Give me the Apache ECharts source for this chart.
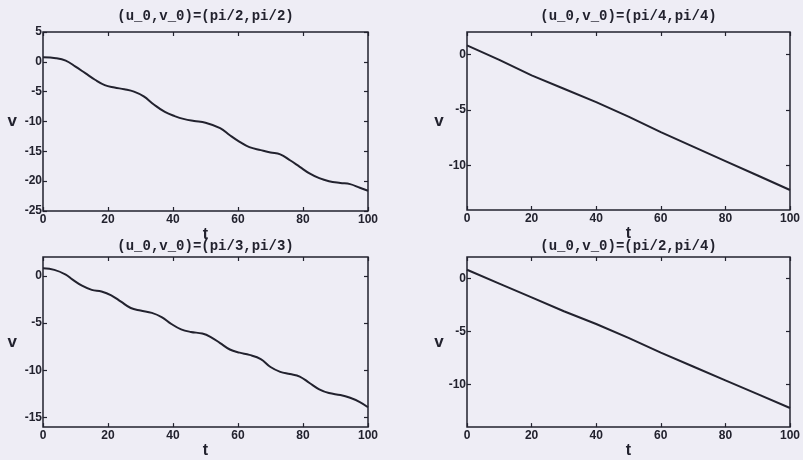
<!DOCTYPE html>
<html>
<head>
<meta charset="utf-8">
<script src="https://cdn.jsdelivr.net/npm/echarts@6/dist/echarts.min.js"></script>
<style>
  html, body { margin: 0; padding: 0; background: #eeedf5; }
  #chart { width: 803px; height: 460px; }
</style>
</head>
<body>
<div id="chart"></div>
<script>
// Time axis ticks shared by all panels
const tTicks = [0, 20, 40, 60, 80, 100];

// Panel titles (initial conditions)
const titles = [
  '(u_0,v_0)=(pi/2,pi/2)',
  '(u_0,v_0)=(pi/4,pi/4)',
  '(u_0,v_0)=(pi/3,pi/3)',
  '(u_0,v_0)=(pi/2,pi/4)'
];

// y tick values per panel
const vTicksA = [5, 0, -5, -10, -15, -20, -25];
const vTicksB = [0, -5, -10];
const vTicksC = [0, -5, -10, -15];
const vTicksD = [0, -5, -10];

// (pi/2, pi/2)
const tA = [0, 4, 7, 10, 13, 16, 19, 22, 25, 28, 31, 34, 37.5, 40.5, 43.5, 46.5, 50,
            54.5, 57.5, 60.5, 63.5, 67, 70, 73, 76, 79, 82, 85, 88, 91.5, 94.5, 97.5, 100];
const vA = [0.75, 0.6, 0.2, -0.8, -1.9, -3.0, -3.9, -4.3, -4.6, -5.0, -5.8, -7.1, -8.4, -9.1, -9.6, -9.9, -10.2,
            -11.1, -12.3, -13.4, -14.3, -14.8, -15.2, -15.5, -16.5, -17.6, -18.7, -19.5, -20.0, -20.3, -20.5, -21.1, -21.6];

// (pi/4, pi/4)
const tB = [0, 10, 20, 30, 40, 50, 60, 70, 80, 90, 100];
const vB = [0.8, -0.5, -1.9, -3.1, -4.3, -5.6, -7.0, -8.3, -9.6, -10.9, -12.2];

// (pi/3, pi/3)
const tC = [0, 3.5, 7, 9, 12, 15, 18, 21, 24, 27, 30, 33.5, 36.5, 39.5, 42.5, 45.5, 49,
            51.5, 54.5, 57.5, 60.5, 63.5, 67, 70, 73, 76, 79, 82, 85, 88, 91.5, 94.5, 97.5, 100];
const vC = [0.8, 0.64, 0.14, -0.37, -1.04, -1.48, -1.65, -2.05, -2.73, -3.4, -3.67, -3.91, -4.35, -5.09, -5.66, -5.93, -6.1,
            -6.44, -7.11, -7.79, -8.12, -8.36, -8.8, -9.64, -10.15, -10.38, -10.65, -11.33, -12.0, -12.4, -12.6, -12.9, -13.35, -13.9];

// (pi/2, pi/4)
const tD = [0, 10, 20, 30, 40, 50, 60, 70, 80, 90, 100];
const vD = [0.8, -0.5, -1.8, -3.1, -4.3, -5.6, -7.0, -8.3, -9.6, -10.9, -12.2];

const ink = '#22222e';
const labelFont = { fontFamily: 'Liberation Sans', fontWeight: 'bold', fontSize: 12, color: ink };

const panels = [
  { grid: { left: 43, top: 32, width: 325, height: 179 }, min: -25, max: 5, ticks: vTicksA, t: tA, v: vA, smooth: true, titleGap: 9, vGap: 26 },
  { grid: { left: 467, top: 32, width: 326, height: 178 }, min: -14, max: 2, ticks: vTicksB, t: tB, v: vB, smooth: false, titleGap: 9, vGap: 22 },
  { grid: { left: 43, top: 257, width: 325, height: 177 }, min: -16, max: 2, ticks: vTicksC, t: tC, v: vC, smooth: true, titleGap: 4, vGap: 26 },
  { grid: { left: 467, top: 257, width: 326, height: 177 }, min: -14, max: 2, ticks: vTicksD, t: tD, v: vD, smooth: false, titleGap: 4, vGap: 22 }
];

const grids = [], xAxes = [], yAxes = [], series = [];
const tickStyle = { inside: true, length: 4, lineStyle: { color: ink, width: 1.2 } };
const noLine = { show: false, onZero: false };

panels.forEach((p, i) => {
  grids.push(Object.assign({ show: true, borderColor: ink, borderWidth: 1.5, backgroundColor: 'transparent' }, p.grid));

  // bottom axis with labels and "t"
  xAxes.push({
    type: 'value', gridIndex: i, position: 'bottom', min: 0, max: 100,
    axisLine: noLine, splitLine: { show: false },
    axisTick: Object.assign({ customValues: tTicks }, tickStyle),
    axisLabel: Object.assign({ customValues: tTicks, margin: 3 }, labelFont),
    name: 't', nameLocation: 'middle', nameGap: 8,
    nameTextStyle: { fontFamily: 'Liberation Sans', fontWeight: 'bold', fontSize: 16, color: ink }
  });
  // top axis carries the ticks and the panel title
  xAxes.push({
    type: 'value', gridIndex: i, position: 'top', min: 0, max: 100,
    axisLine: noLine, splitLine: { show: false },
    axisTick: Object.assign({ customValues: tTicks }, tickStyle),
    axisLabel: { show: false },
    name: titles[i], nameLocation: 'middle', nameGap: p.titleGap,
    nameTextStyle: { fontFamily: 'Liberation Mono', fontWeight: 'bold', fontSize: 14, color: ink }
  });
  // left axis with labels and "v"
  yAxes.push({
    type: 'value', gridIndex: i, position: 'left', min: p.min, max: p.max,
    axisLine: noLine, splitLine: { show: false },
    axisTick: Object.assign({ customValues: p.ticks }, tickStyle),
    axisLabel: Object.assign({ customValues: p.ticks, margin: 1 }, labelFont),
    name: 'v', nameLocation: 'middle', nameRotate: 0, nameGap: p.vGap,
    nameTextStyle: { fontFamily: 'Liberation Sans', fontWeight: 'bold', fontSize: 17, color: ink }
  });
  // right axis ticks only
  yAxes.push({
    type: 'value', gridIndex: i, position: 'right', min: p.min, max: p.max,
    axisLine: noLine, splitLine: { show: false },
    axisTick: Object.assign({ customValues: p.ticks }, tickStyle),
    axisLabel: { show: false }
  });

  series.push({
    type: 'line', xAxisIndex: i * 2, yAxisIndex: i * 2,
    data: p.t.map((x, k) => [x, p.v[k]]),
    smooth: p.smooth ? 0.4 : false, showSymbol: false,
    lineStyle: { color: ink, width: 2 }
  });
});

const chart = echarts.init(document.getElementById('chart'), null, { renderer: 'canvas' });
chart.setOption({
  backgroundColor: '#eeedf5',
  animation: false,
  grid: grids,
  xAxis: xAxes,
  yAxis: yAxes,
  series: series
});
</script>
</body>
</html>
